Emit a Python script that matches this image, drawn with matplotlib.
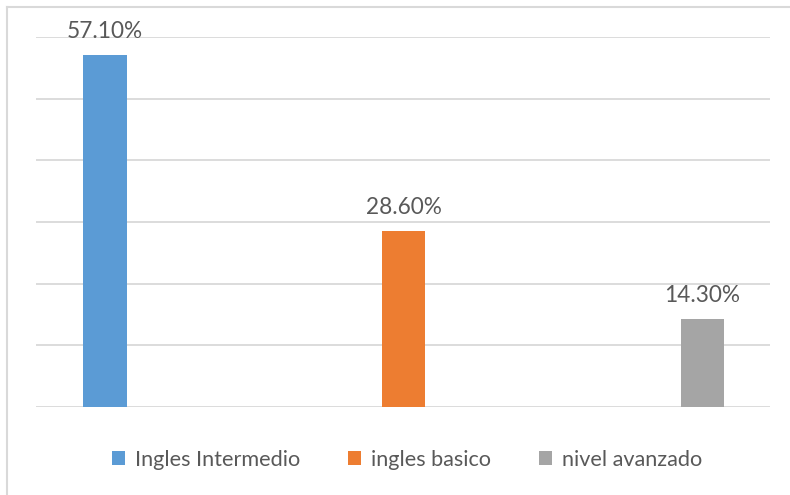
import matplotlib
matplotlib.use("Agg")
import matplotlib.pyplot as plt
from matplotlib.patches import Patch
from matplotlib.lines import Line2D

categories = ["Ingles Intermedio", "ingles basico", "nivel avanzado"]
values = [57.1, 28.6, 14.3]
labels = ["57.10%", "28.60%", "14.30%"]
colors = ["#5B9BD5", "#ED7D31", "#A5A5A5"]

plt.rcParams['font.family'] = ['Lato', 'DejaVu Sans']
text_color = "#595959"

fig = plt.figure(figsize=(7.9, 4.95), dpi=100)
W, H = 790, 495
ax = fig.add_axes([36 / W, 1 - 407 / H, (770 - 36) / W, (407 - 37) / H])

x = list(range(len(categories)))
bars = ax.bar(x, values, width=0.144, color=colors, zorder=3)
ax.set_xlim(-0.231, 2.226)
ax.set_ylim(0, 60)
ax.set_yticks([0, 10, 20, 30, 40, 50, 60])
ax.grid(axis='y', color="#d9d9d9", linewidth=1.3, zorder=0)
ax.tick_params(left=False, bottom=False, labelleft=False, labelbottom=False)
for s in ax.spines.values():
    s.set_visible(False)

for xi, v, lab in zip(x, values, labels):
    ax.annotate(lab, (xi, v), xytext=(0, 9), textcoords='offset points',
                ha='center', va='bottom', fontsize=16.3, color=text_color, zorder=4)

handles = [Patch(facecolor=c, edgecolor='none') for c in colors]
leg = fig.legend(handles, categories, loc='center', bbox_to_anchor=(407 / W, 1 - 460 / H),
                 ncol=3, frameon=False, fontsize=15.6, handlelength=0.62, handleheight=0.62,
                 handletextpad=0.45, columnspacing=2.2, labelcolor=text_color)

# partial border (left and top visible)
fig.add_artist(Line2D([6.5 / W, 6.5 / W], [0, 1 - 7 / H], transform=fig.transFigure,
                      color="#d9d9d9", linewidth=1.5))
fig.add_artist(Line2D([6.5 / W, 1], [1 - 7 / H, 1 - 7 / H], transform=fig.transFigure,
                      color="#d9d9d9", linewidth=1.5))

fig.savefig("out.png", dpi=100, facecolor="white")
